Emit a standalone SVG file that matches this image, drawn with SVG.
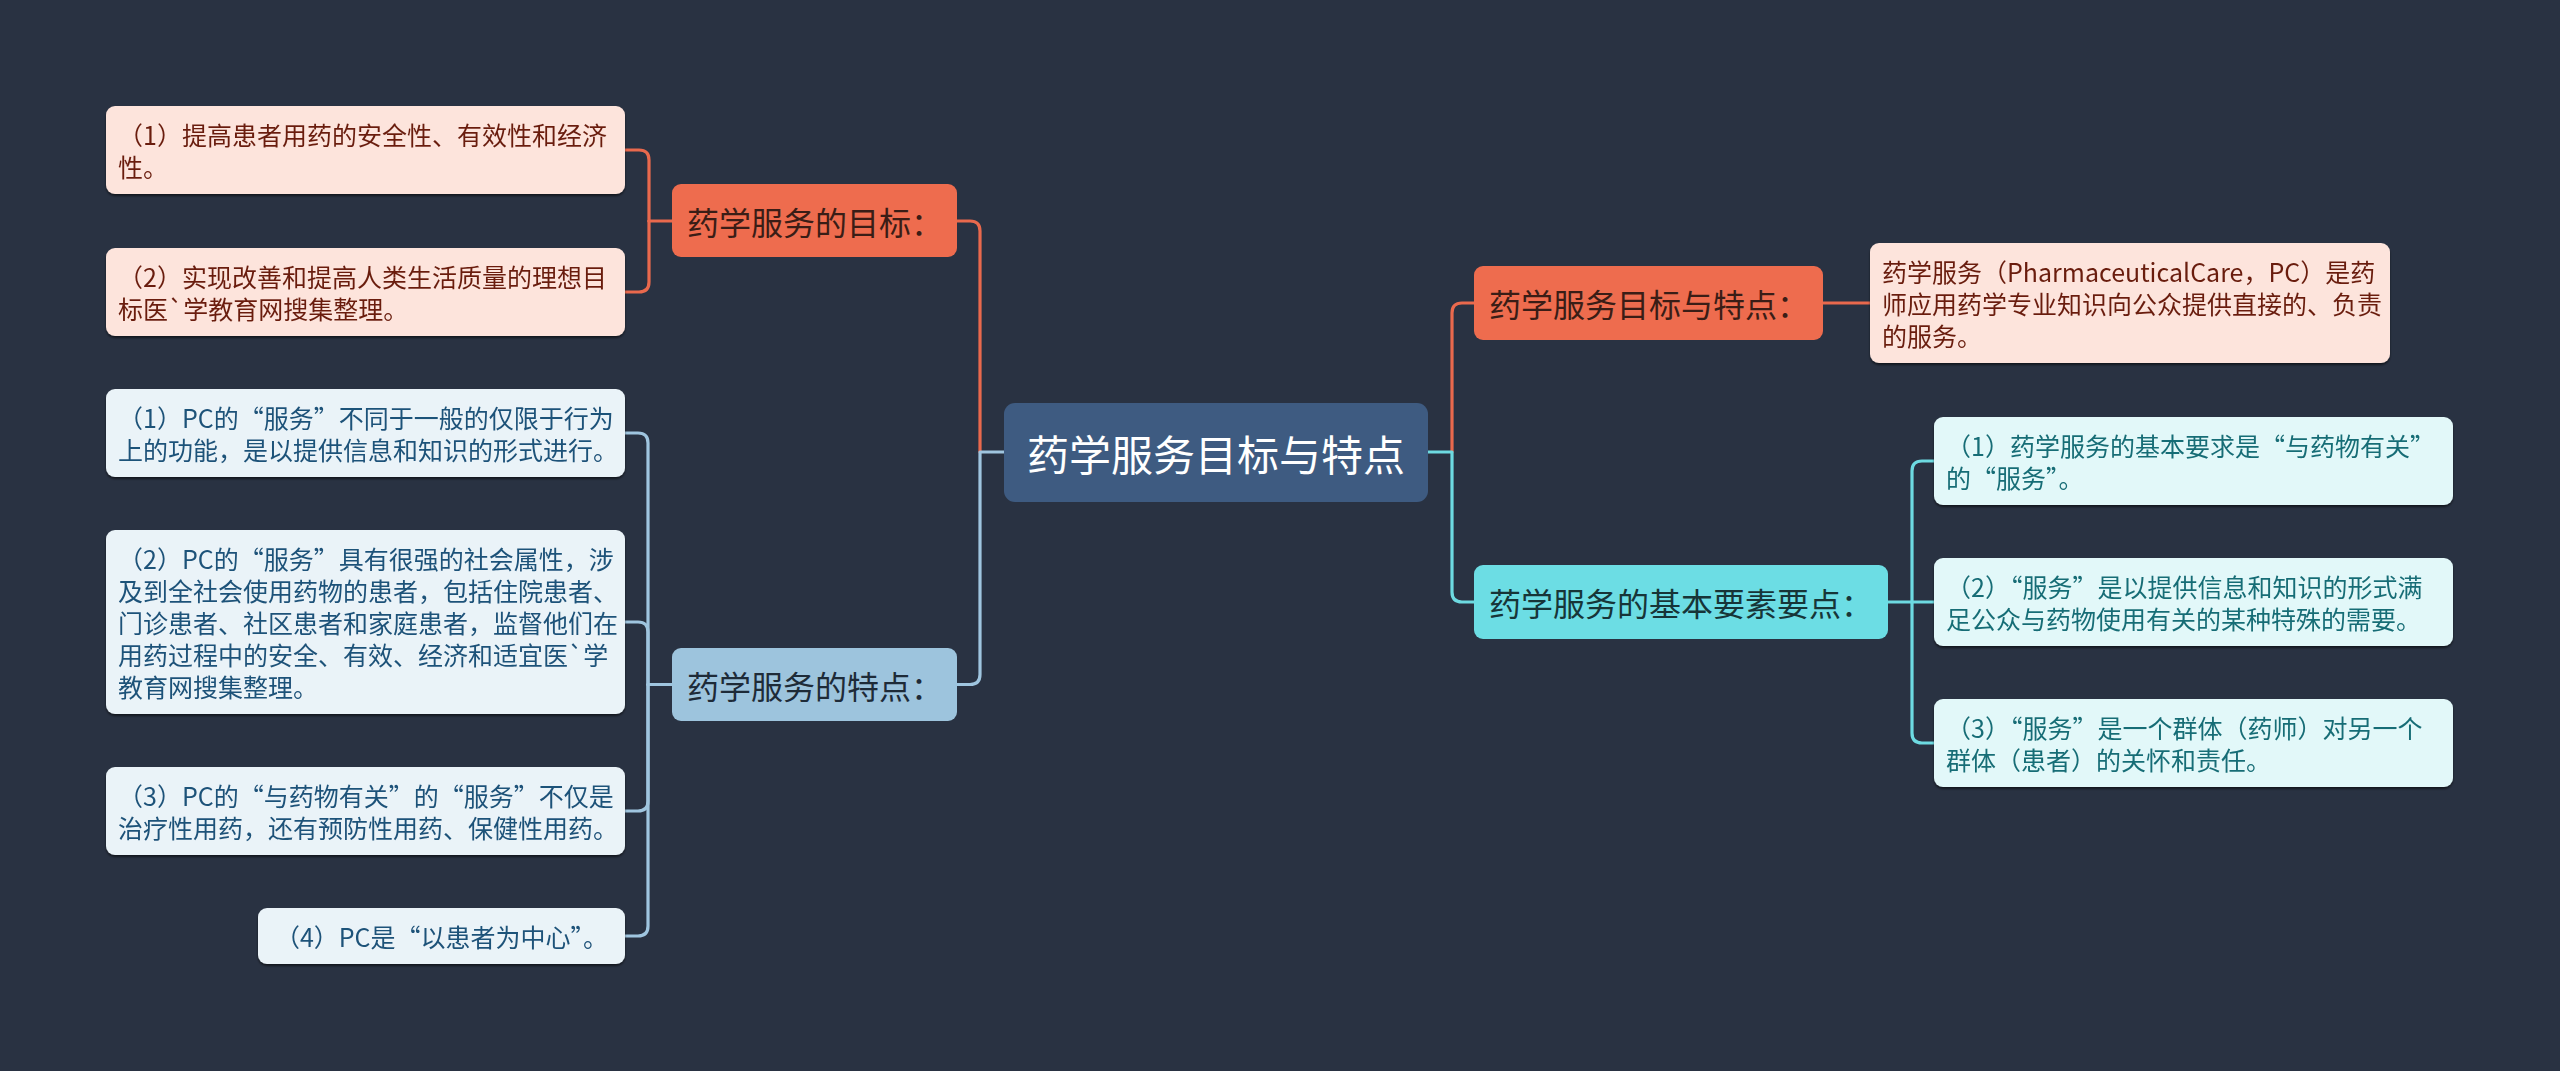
<svg xmlns="http://www.w3.org/2000/svg" width="2560" height="1071" viewBox="0 0 2560 1071">
<defs>
<filter id="sh" x="-5%" y="-10%" width="110%" height="130%"><feDropShadow dx="0" dy="2" stdDeviation="1.2" flood-color="#000000" flood-opacity="0.55"/></filter>
<style>
text{font-family:"Noto Sans CJK SC","Noto Sans",sans-serif;dominant-baseline:central}
.c{fill:none;stroke-width:3.2;stroke-linecap:round;stroke-linejoin:round}
.co{stroke:#e9694d}.cb{stroke:#9fc5df}.cc{stroke:#6ddae1}
.leaf{font-size:25px}
.node{font-size:32px}
.ol rect{fill:#fde4dc}.ol text{fill:#6a1f10}
.bl rect{fill:#eaf3f8}.bl text{fill:#1f5279}
.cl rect{fill:#e2f8f9}.cl text{fill:#186d76}
.on rect{fill:#ee6c4e}.on text{fill:#3a1d16}
.bn rect{fill:#9dc4dd}.bn text{fill:#1e2b38}
.cn rect{fill:#6cdde4}.cn text{fill:#173538}
</style>
</defs>
<rect x="0" y="0" width="2560" height="1071" fill="#293242"/>

<g id="connectors">
<path class="c co" d="M957,221 H970 Q980,221 980,231 V452"/>
<path class="c cb" d="M1004,452 H980 V674.5 Q980,684.5 970,684.5 H957"/>
<path class="c co" d="M1452,452 V313 Q1452,303 1462,303 H1474"/>
<path class="c cc" d="M1428,452 H1452 V592 Q1452,602 1462,602 H1474"/>
<path class="c co" d="M1823,303 H1870"/>
<path class="c cc" d="M1888,602 H1934"/>
<path class="c cc" d="M1912,602 V471 Q1912,461 1922,461 H1934"/>
<path class="c cc" d="M1912,602 V733 Q1912,743 1922,743 H1934"/>
<path class="c co" d="M672,221 H649"/>
<path class="c co" d="M649,221 V160 Q649,150 639,150 H625"/>
<path class="c co" d="M649,221 V282 Q649,292 639,292 H625"/>
<path class="c cb" d="M672,684.5 H648"/>
<path class="c cb" d="M648,684.5 V443 Q648,433 638,433 H625"/>
<path class="c cb" d="M648,684.5 V632 Q648,622 638,622 H625"/>
<path class="c cb" d="M648,684.5 V801 Q648,811 638,811 H625"/>
<path class="c cb" d="M648,684.5 V926 Q648,936 638,936 H625"/>
</g>

<g id="root">
<rect x="1004" y="403" width="424" height="99" rx="11" fill="#3e5b81"/>
<text x="1216" y="452.5" font-size="42" fill="#ffffff" text-anchor="middle">药学服务目标与特点</text>
</g>

<g id="goal" class="on node">
<rect x="672" y="184" width="285" height="73" rx="9"/>
<text x="687" y="220.5">药学服务的目标：</text>
</g>
<g id="goal1" class="ol leaf" filter="url(#sh)">
<rect x="106" y="106" width="519" height="88" rx="9"/>
<text x="118" y="134">（1）提高患者用药的安全性、有效性和经济</text>
<text x="118" y="166">性。</text>
</g>
<g id="goal2" class="ol leaf" filter="url(#sh)">
<rect x="106" y="248" width="519" height="88" rx="9"/>
<text x="118" y="276">（2）实现改善和提高人类生活质量的理想目</text>
<text x="118" y="308">标医`学教育网搜集整理。</text>
</g>

<g id="feat" class="bn node">
<rect x="672" y="648" width="285" height="73" rx="9"/>
<text x="687" y="684.5">药学服务的特点：</text>
</g>
<g id="feat1" class="bl leaf" filter="url(#sh)">
<rect x="106" y="389" width="519" height="88" rx="9"/>
<text x="118" y="417">（1）PC的“服务”不同于一般的仅限于行为</text>
<text x="118" y="449">上的功能，是以提供信息和知识的形式进行。</text>
</g>
<g id="feat2" class="bl leaf" filter="url(#sh)">
<rect x="106" y="530" width="519" height="184" rx="9"/>
<text x="118" y="558">（2）PC的“服务”具有很强的社会属性，涉</text>
<text x="118" y="590">及到全社会使用药物的患者，包括住院患者、</text>
<text x="118" y="622">门诊患者、社区患者和家庭患者，监督他们在</text>
<text x="118" y="654">用药过程中的安全、有效、经济和适宜医`学</text>
<text x="118" y="686">教育网搜集整理。</text>
</g>
<g id="feat3" class="bl leaf" filter="url(#sh)">
<rect x="106" y="767" width="519" height="88" rx="9"/>
<text x="118" y="795">（3）PC的“与药物有关”的“服务”不仅是</text>
<text x="118" y="827">治疗性用药，还有预防性用药、保健性用药。</text>
</g>
<g id="feat4" class="bl leaf" filter="url(#sh)">
<rect x="258" y="908" width="367" height="56" rx="9"/>
<text x="441.5" y="936" text-anchor="middle">（4）PC是“以患者为中心”。</text>
</g>

<g id="r1" class="on node">
<rect x="1474" y="266" width="349" height="74" rx="9"/>
<text x="1489" y="303">药学服务目标与特点：</text>
</g>
<g id="r1leaf" class="ol leaf" filter="url(#sh)">
<rect x="1870" y="243" width="520" height="120" rx="9"/>
<text x="1882" y="271">药学服务（PharmaceuticalCare，PC）是药</text>
<text x="1882" y="303">师应用药学专业知识向公众提供直接的、负责</text>
<text x="1882" y="335">的服务。</text>
</g>

<g id="r2" class="cn node">
<rect x="1474" y="565" width="414" height="74" rx="9"/>
<text x="1489" y="602">药学服务的基本要素要点：</text>
</g>
<g id="r2a" class="cl leaf" filter="url(#sh)">
<rect x="1934" y="417" width="519" height="88" rx="9"/>
<text x="1946" y="445">（1）药学服务的基本要求是“与药物有关”</text>
<text x="1946" y="477">的“服务”。</text>
</g>
<g id="r2b" class="cl leaf" filter="url(#sh)">
<rect x="1934" y="558" width="519" height="88" rx="9"/>
<text x="1946" y="586">（2）“服务”是以提供信息和知识的形式满</text>
<text x="1946" y="618">足公众与药物使用有关的某种特殊的需要。</text>
</g>
<g id="r2c" class="cl leaf" filter="url(#sh)">
<rect x="1934" y="699" width="519" height="88" rx="9"/>
<text x="1946" y="727">（3）“服务”是一个群体（药师）对另一个</text>
<text x="1946" y="759">群体（患者）的关怀和责任。</text>
</g>
</svg>
